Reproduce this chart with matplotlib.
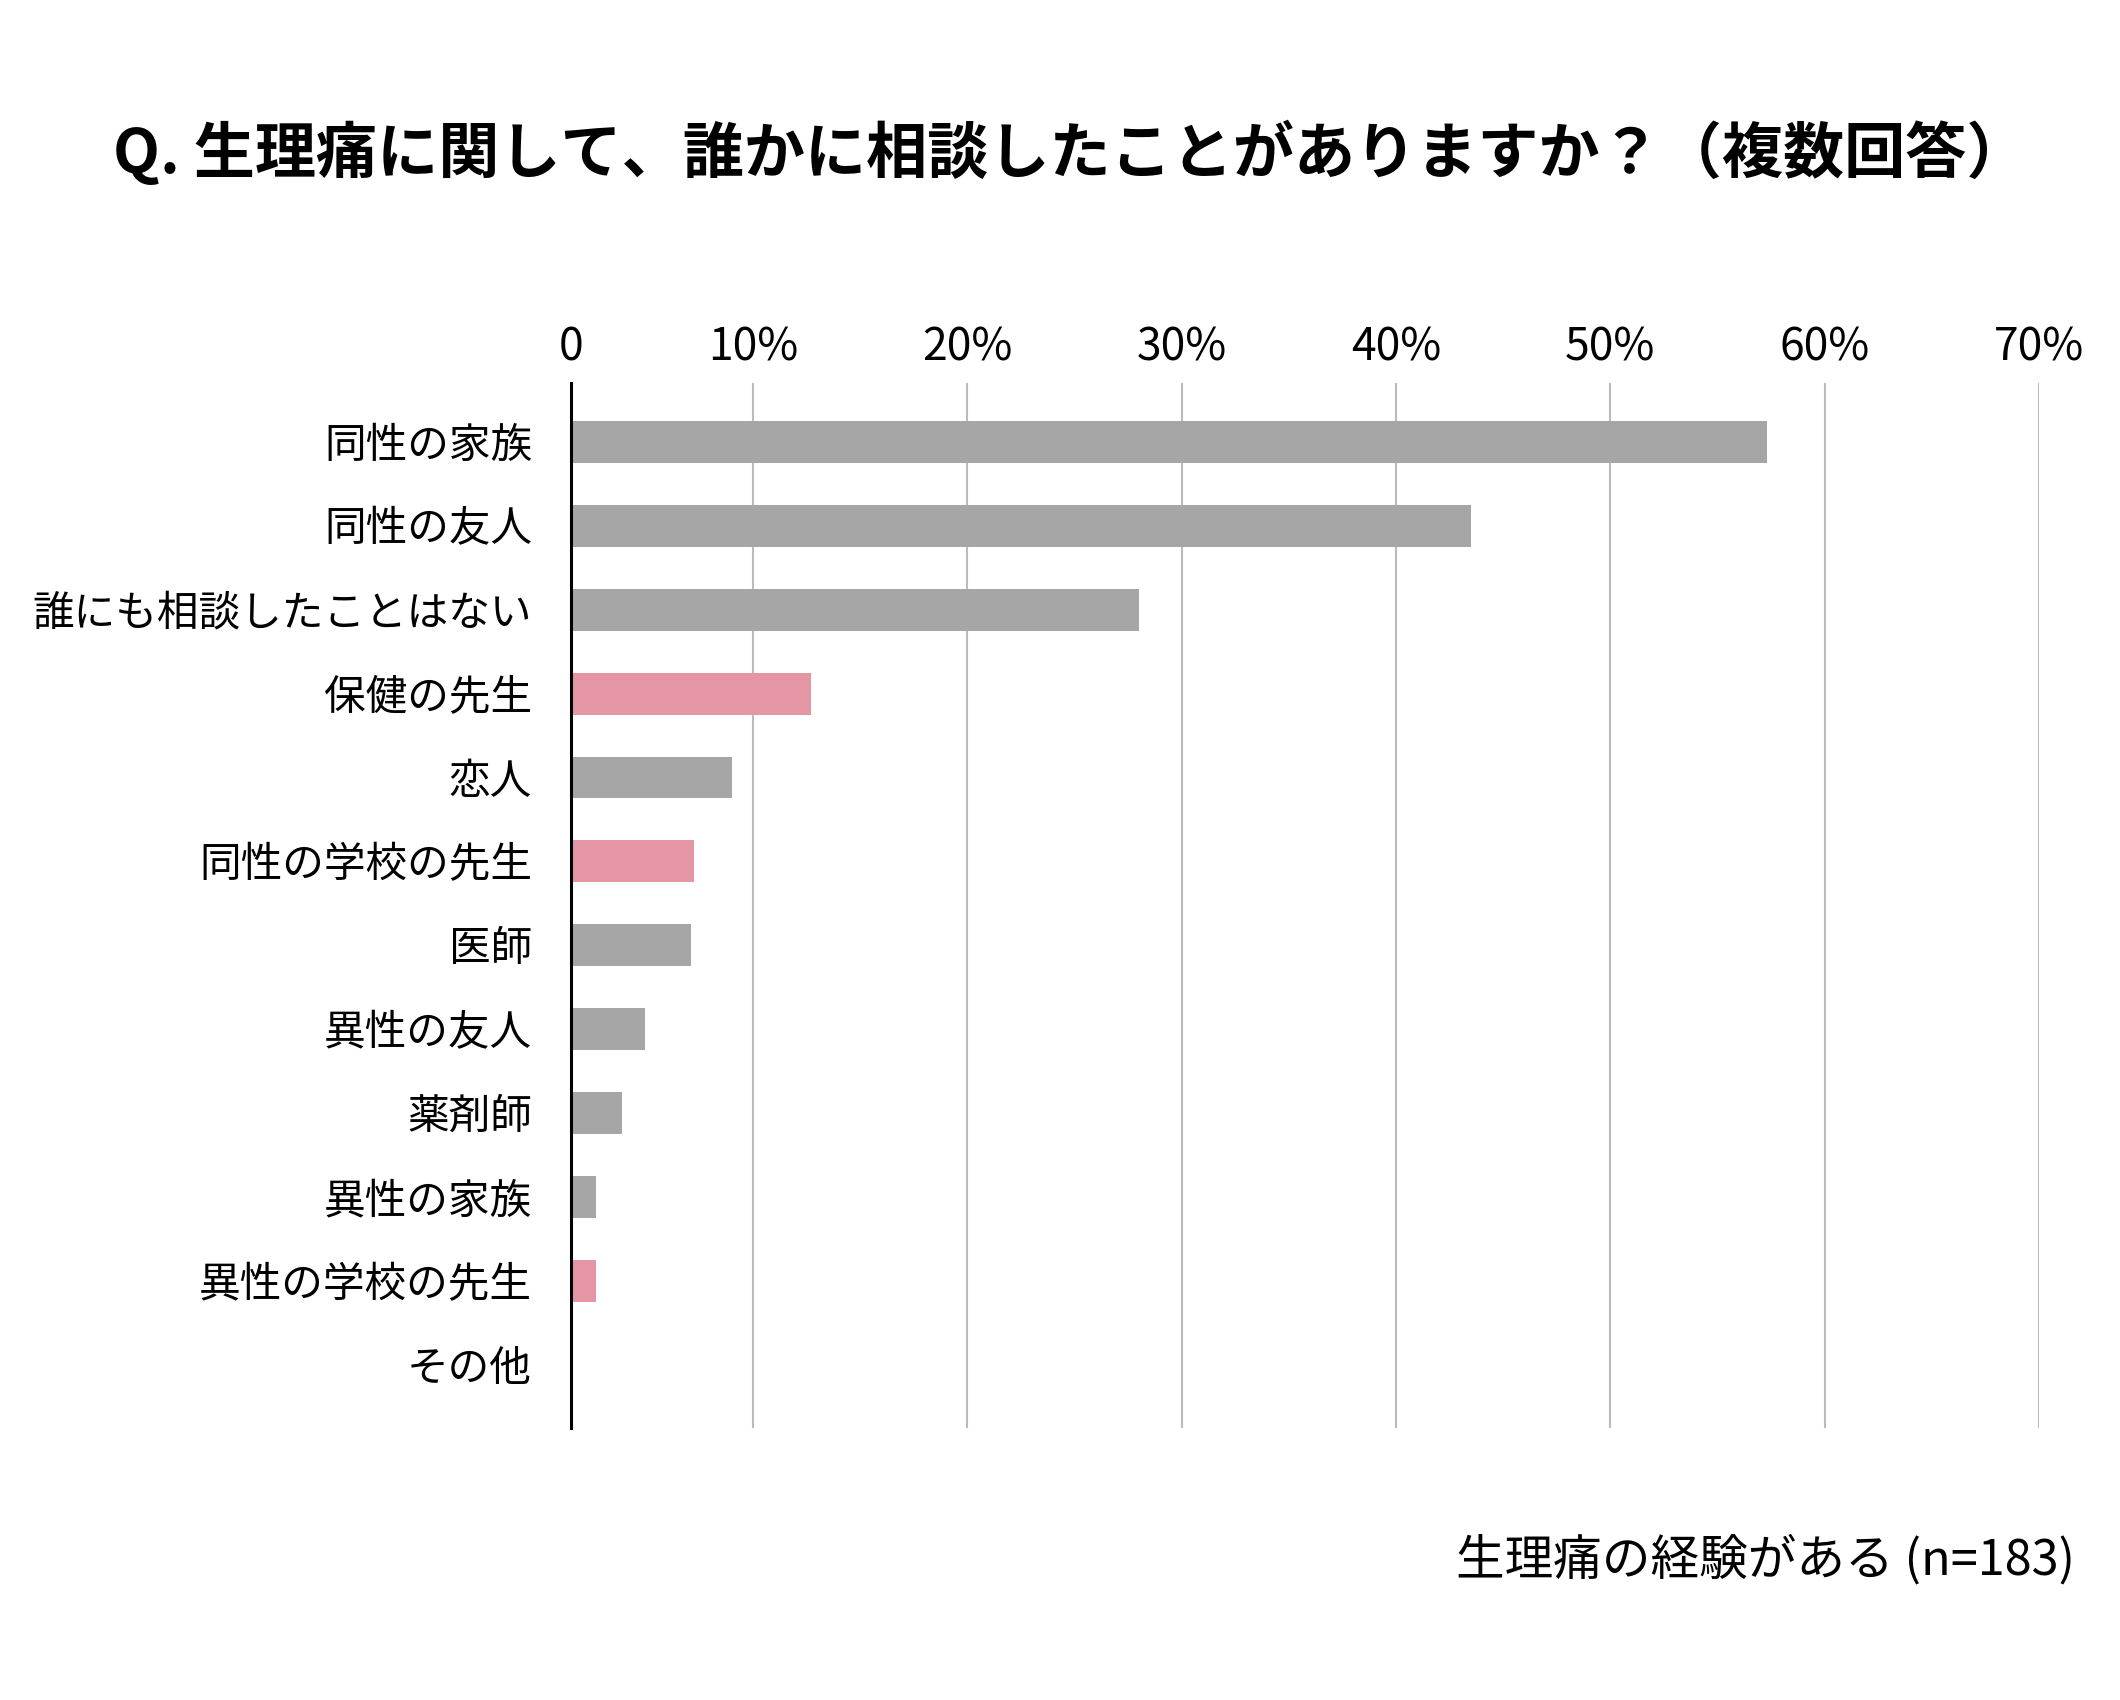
"""Horizontal bar chart: who did you talk to about period pain (multiple answers)."""
import numpy as np
import matplotlib
matplotlib.use("Agg")
import matplotlib.pyplot as plt

plt.rcParams["font.family"] = ["Noto Sans CJK JP", "DejaVu Sans"]

# data (percent of n=183)
categories = ["同性の家族", "同性の友人", "誰にも相談したことはない", "保健の先生", "恋人",
              "同性の学校の先生", "医師", "異性の友人", "薬剤師", "異性の家族",
              "異性の学校の先生", "その他"]
percents = [57.3, 43.5, 28.0, 12.7, 9.0, 7.25, 7.1, 4.95, 3.9, 2.65, 2.65, 0.0]
highlight = [False, False, False, True, False, True, False, False, False, False, True, False]
tick_vals = [10, 20, 30, 40, 50, 60, 70]
tick_labels = ["10%", "20%", "30%", "40%", "50%", "60%", "70%"]

GRAY, PINK = "#a6a6a6", "#e596a5"
X0 = 1.5  # the chart's left edge sits a bit right of true zero, labelled "0"

fig = plt.figure(figsize=(21.2, 17), dpi=100)
ax = fig.add_axes([0.2693, 0.160, 0.9618 - 0.2693, 0.7747 - 0.160])

y = np.arange(len(categories))
colors = [PINK if h else GRAY for h in highlight]
ax.barh(y, [max(p - X0, 0) for p in percents], left=X0, height=0.5, color=colors, zorder=3)

ax.set_xlim(X0, 70)
ax.set_ylim(len(categories) - 1 + 0.75, -0.70)
ax.set_xticks([X0] + tick_vals)
ax.set_xticklabels(["0"] + tick_labels, fontsize=32)
ax.xaxis.tick_top()
ax.tick_params(axis="x", length=0, pad=9)
ax.set_yticks(y)
ax.set_yticklabels(categories, fontsize=30)
ax.tick_params(axis="y", length=0, pad=28)

for v in tick_vals:
    ax.axvline(v, color="#bbbbbb", lw=1.5, zorder=1)

for s in ["top", "right", "bottom"]:
    ax.spines[s].set_visible(False)
ax.spines["left"].set_linewidth(2.2)
ax.spines["left"].set_color("black")
ax.spines["left"].set_zorder(4)

fig.text(0.505, 0.91, "Q. 生理痛に関して、誰かに相談したことがありますか？（複数回答）",
         ha="center", va="center", fontsize=44, fontweight="bold")
fig.text(0.979, 0.082, "生理痛の経験がある (n=183)", ha="right", va="center", fontsize=35)

fig.savefig("out.png", dpi=100, facecolor="white")
print("saved out.png")
